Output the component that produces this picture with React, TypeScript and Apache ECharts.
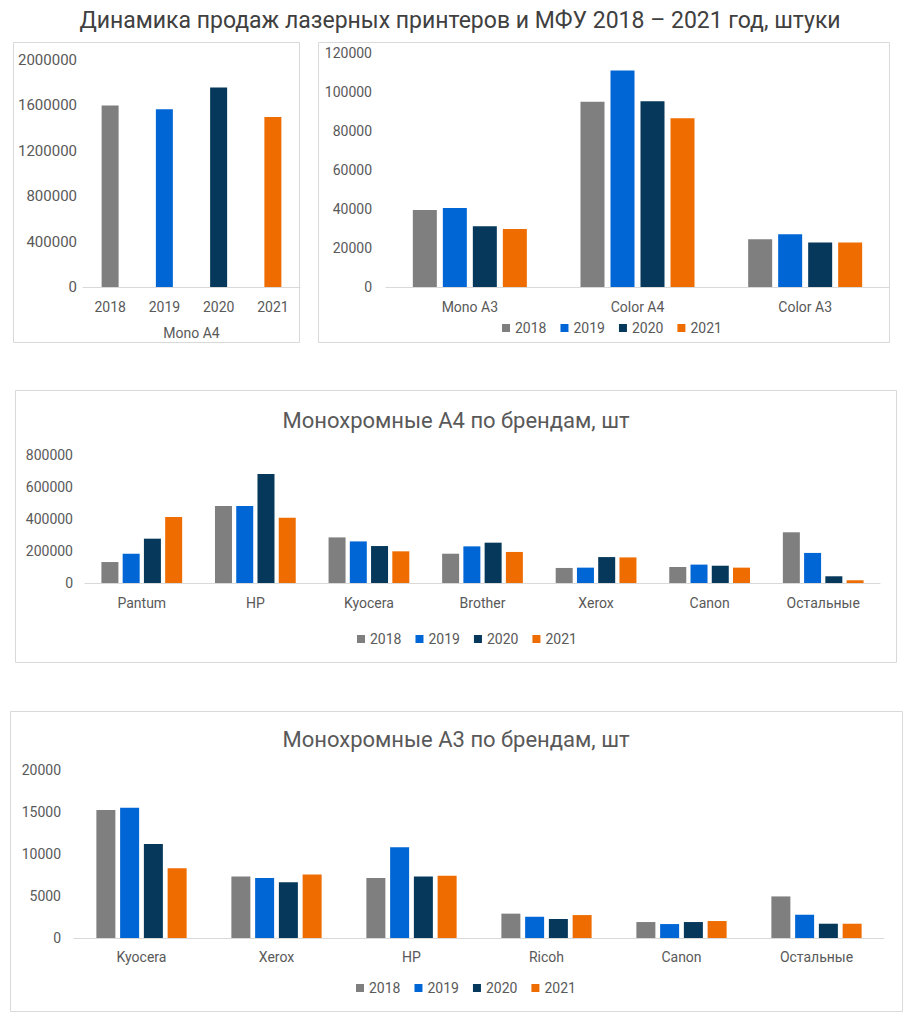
import React, { useEffect, useRef } from "react";
import * as echarts from "echarts";

const MAIN_TITLE = "Динамика продаж лазерных принтеров и МФУ 2018 – 2021 год, штуки";
const A4_TITLE = "Монохромные А4 по брендам, шт";
const A3_TITLE = "Монохромные А3 по брендам, шт";

const YEARS = ["2018", "2019", "2020", "2021"];
const COLORS = ["#7f7f7f", "#0066d6", "#05385a", "#ef6c00"];

// Top-left: Mono A4 totals
const MONO_A4_NAME = "Mono A4";
const monoA4Total = [1600000, 1565000, 1758000, 1498000];

// Top-right
const topCats = ["Mono A3", "Color A4", "Color A3"];
const top2018 = [39500, 95000, 24500];
const top2019 = [40500, 111000, 27000];
const top2020 = [31200, 95200, 22800];
const top2021 = [29700, 86600, 22800];

// Middle: mono A4 by brand
const a4Brands = ["Pantum", "HP", "Kyocera", "Brother", "Xerox", "Canon", "Остальные"];
const a4_2018 = [131000, 481000, 285000, 183000, 94000, 100000, 317000];
const a4_2019 = [183000, 481000, 260000, 229000, 96000, 115000, 188000];
const a4_2020 = [277000, 681000, 231000, 252000, 162000, 108000, 42000];
const a4_2021 = [412000, 408000, 198000, 194000, 160000, 96000, 17000];

// Bottom: mono A3 by brand
const a3Brands = ["Kyocera", "Xerox", "HP", "Ricoh", "Canon", "Остальные"];
const a3_2018 = [15250, 7330, 7130, 2900, 1900, 4950];
const a3_2019 = [15500, 7130, 10800, 2530, 1660, 2770];
const a3_2020 = [11200, 6650, 7330, 2260, 1900, 1700];
const a3_2021 = [8300, 7560, 7400, 2730, 2020, 1700];

const FONT = 'Roboto, "Noto Sans", sans-serif';
const TXT = "#595959";
const AXIS = "#d9d9d9";
const BORDER = "#d9d9d9";

function xAxisCfg(gridIndex: number, data: string[], margin: number, extra: any = {}) {
  return {
    type: "category",
    gridIndex,
    data,
    axisLine: { show: true, lineStyle: { color: AXIS, width: 1 } },
    axisTick: { show: false },
    axisLabel: { color: TXT, fontSize: 14, fontFamily: FONT, margin, interval: 0 },
    splitLine: { show: false },
    ...extra,
  };
}

function yAxisCfg(gridIndex: number, max: number, interval: number, margin: number, size = 14) {
  return {
    type: "value",
    gridIndex,
    min: 0,
    max,
    interval,
    axisLine: { show: false },
    axisTick: { show: false },
    splitLine: { show: false },
    axisLabel: {
      color: TXT,
      fontSize: size,
      fontFamily: FONT,
      margin,
      formatter: (v: number) => String(v),
    },
  };
}

function legendCfg(left: number, top: number) {
  return {
    data: YEARS,
    left,
    top,
    padding: 0,
    icon: "rect",
    itemWidth: 8,
    itemHeight: 8,
    itemGap: 14,
    textStyle: { color: TXT, fontSize: 14, fontFamily: FONT },
  };
}

function yearSeries(idx: number, arrays: number[][], barWidth: number) {
  return arrays.map((arr, i) => ({
    type: "bar",
    name: YEARS[i],
    xAxisIndex: idx,
    yAxisIndex: idx,
    data: arr,
    barWidth,
    barGap: "25%",
    itemStyle: { color: COLORS[i] },
  }));
}

function textEl(x: number, y: number, text: string, size: number, fill: string) {
  return {
    type: "text",
    x,
    y,
    style: {
      text,
      fill,
      fontSize: size,
      fontFamily: FONT,
      align: "center",
      verticalAlign: "middle",
      textAlign: "center",
      textVerticalAlign: "middle",
    },
  };
}

function boxEl(x: number, y: number, w: number, h: number) {
  return {
    type: "rect",
    shape: { x, y, width: w, height: h },
    style: { fill: "none", stroke: BORDER, lineWidth: 1 },
    silent: true,
  };
}

export default function App() {
  const ref = useRef<HTMLDivElement>(null);
  useEffect(() => {
    if (!ref.current) return;
    const chart = echarts.init(ref.current, undefined, { renderer: "svg" });
    chart.setOption({
      animation: false,
      backgroundColor: "#ffffff",
      textStyle: { fontFamily: FONT },
      grid: [
        { left: 83, top: 60, width: 217, height: 227, containLabel: false },
        { left: 386, top: 53, width: 503, height: 234, containLabel: false },
        { left: 85, top: 455, width: 795, height: 128, containLabel: false },
        { left: 74, top: 770, width: 810, height: 168, containLabel: false },
      ],
      xAxis: [
        xAxisCfg(0, YEARS, 13, {
          name: MONO_A4_NAME,
          nameLocation: "middle",
          nameGap: 39,
          nameTextStyle: { color: TXT, fontSize: 14, fontFamily: FONT },
        }),
        xAxisCfg(1, topCats, 13),
        xAxisCfg(2, a4Brands, 13),
        xAxisCfg(3, a3Brands, 12),
      ],
      yAxis: [
        yAxisCfg(0, 2000000, 400000, 6, 15),
        yAxisCfg(1, 120000, 20000, 14),
        yAxisCfg(2, 800000, 200000, 12),
        yAxisCfg(3, 20000, 5000, 13),
      ],
      legend: [legendCfg(502, 321), legendCfg(357, 632), legendCfg(356, 981)],
      series: [
        {
          type: "bar",
          name: MONO_A4_NAME,
          xAxisIndex: 0,
          yAxisIndex: 0,
          barWidth: 17,
          data: monoA4Total.map((v, i) => ({ value: v, itemStyle: { color: COLORS[i] } })),
        },
        ...yearSeries(1, [top2018, top2019, top2020, top2021], 24),
        ...yearSeries(2, [a4_2018, a4_2019, a4_2020, a4_2021], 17),
        ...yearSeries(3, [a3_2018, a3_2019, a3_2020, a3_2021], 19),
      ],
      graphic: [
        boxEl(13.5, 42.5, 286, 300),
        boxEl(318.5, 42.5, 571, 300),
        boxEl(15.5, 390.5, 881, 272),
        boxEl(10.5, 711.5, 892, 300),
        textEl(460, 20, MAIN_TITLE, 23, "#404040"),
        textEl(456, 420, A4_TITLE, 22, TXT),
        textEl(456, 739, A3_TITLE, 22, TXT),
      ],
    });
    return () => chart.dispose();
  }, []);
  return (
    <div
      ref={ref}
      style={{ position: "absolute", left: 0, top: 0, width: 908, height: 1024, background: "#fff" }}
    />
  );
}
